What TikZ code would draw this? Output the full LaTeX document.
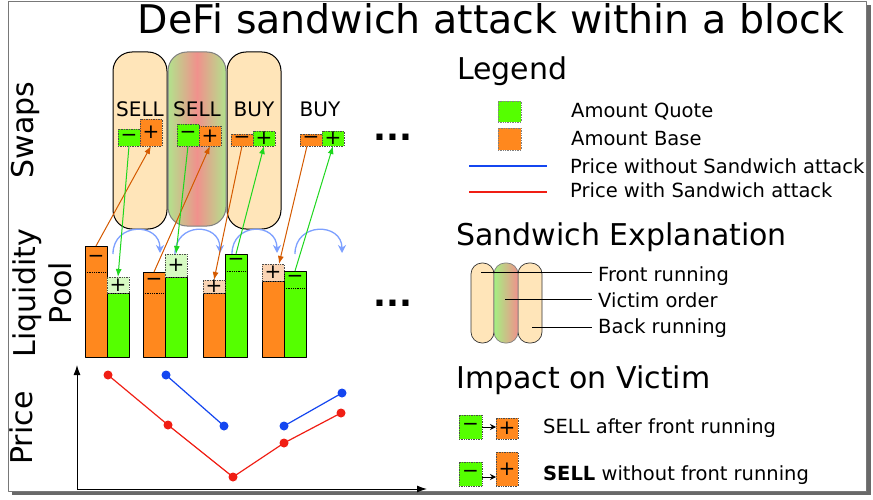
\documentclass[tikz,border=0pt]{standalone}
\usepackage{fontspec}
\setmainfont{DejaVu Sans}
\usetikzlibrary{arrows.meta}

\definecolor{peach}{RGB}{255,229,185}
\definecolor{quoteg}{RGB}{85,255,0}
\definecolor{baseo}{RGB}{255,136,30}
\definecolor{quotel}{RGB}{215,250,195}
\definecolor{basel}{RGB}{250,212,180}
\definecolor{vgreen}{RGB}{178,226,140}
\definecolor{vred}{RGB}{240,145,140}
\definecolor{mgreen}{RGB}{165,240,130}
\definecolor{lineorange}{RGB}{212,90,0}
\definecolor{linegreen}{RGB}{30,215,30}
\definecolor{arcblue}{RGB}{125,160,255}
\definecolor{priceblue}{RGB}{20,70,240}
\definecolor{pricered}{RGB}{240,30,20}
\definecolor{framegray}{RGB}{120,120,120}
\definecolor{shadowgray}{RGB}{105,105,105}

\newcommand{\sz}[1]{\fontsize{#1}{#1}\selectfont}

\begin{document}
\begin{tikzpicture}[x=1pt, y=-1pt, line join=round,
    pill/.style={draw=black, line width=1pt, fill=peach, rounded corners=19pt},
    minipill/.style={draw=black!80, line width=0.7pt, fill=peach, rounded corners=11pt},
    amt/.style={draw=black!70, densely dotted, line width=0.7pt, inner sep=0pt, outer sep=0pt,
      anchor=south west, minimum width=22pt},
    quote/.style={amt, fill=quoteg},
    base/.style={amt, fill=baseo},
    bar/.style={draw=black, line width=1pt, inner sep=0pt, outer sep=0pt, anchor=south,
      minimum width=22pt},
    addbox/.style={amt, anchor=south},
    sep/.style={densely dotted, line width=0.8pt},
    sign/.style={font=\sz{20}, inner sep=0pt},
    act/.style={font=\sz{20}, anchor=base, inner sep=0pt},
    head/.style={font=\sz{30}, anchor=base west, inner sep=0pt},
    item/.style={font=\sz{19.5}, anchor=base west, inner sep=0pt},
    rowlab/.style={font=\fontsize{30}{36}\selectfont, rotate=90, inner sep=0pt},
    etc/.style={font=\bfseries\sz{34}, inner sep=0pt},
    baseflow/.style={draw=lineorange, line width=1pt, -{Latex[length=8pt,width=6pt]}},
    quoteflow/.style={draw=linegreen, line width=1pt, -{Latex[length=8pt,width=6pt]}},
    turn/.style={draw=arcblue, line width=1.3pt, -{Stealth[length=8pt,width=8pt]}},
    axis/.style={line width=1pt, -{Latex[length=10pt,width=7pt]}},
    blueline/.style={draw=priceblue, line width=1.2pt},
    redline/.style={draw=pricered, line width=1.2pt},
    every label/.style={font=\sz{20}, inner sep=0pt}]

    \useasboundingbox (0,0) rectangle (873,500);

    % frame with shadow
    \fill[white] (8,1) rectangle (866,491);
    \fill[shadowgray] (12,491) rectangle (871,495);
    \fill[shadowgray] (866,5) rectangle (871,495);
    \draw[framegray, line width=0.8pt] (8,1) rectangle (866,491);

    % title
    \node[font=\sz{39.5}, anchor=base, inner sep=0pt] (title) at (491,34) {DeFi sandwich attack within a block};

    % row labels
    \node[rowlab] (swaps) at (25,130) {Swaps};
    \node[rowlab, align=center] (pool) at (42,293) {Liquidity\\Pool};
    \node[rowlab] (price) at (21,428) {Price};

    % sandwich pills
    \draw[pill] (113,52) rectangle (167,229);
    \draw[pill] (227,52) rectangle (281,229);
    \draw[pill, draw=gray, left color=vgreen, right color=vgreen, middle color=vred] (168,52) rectangle (226,226);

    % swaps
    \node[act] (t1) at (140,117) {SELL};
    \node[act] (t2) at (197,117) {SELL};
    \node[act] (t3) at (254,117) {BUY};
    \node[act] (t4) at (320,117) {BUY};

    \node[quote, minimum height=17pt, label=center:−] (sw1m) at (118,146) {};
    \node[base, minimum height=27pt, label=center:+] (sw1p) at (140,146) {};
    \node[quote, minimum height=22pt, label=center:−] (sw2m) at (177,146) {};
    \node[base, minimum height=20pt, label=center:+] (sw2p) at (199,146) {};
    \node[base, minimum height=12pt, label=center:−] (sw3m) at (231,146) {};
    \node[quote, minimum height=15pt, label=center:+] (sw3p) at (253,146) {};
    \node[base, minimum height=12pt, label=center:−] (sw4m) at (300,146) {};
    \node[quote, minimum height=15pt, label=center:+] (sw4p) at (322,146) {};

    \node[etc] (more1) at (393,137) {...};

    % pool turns
    \foreach \xa/\xb in {113/160, 175/220, 232/277, 295/342}
        \draw[turn] (\xa,254) .. controls (\xa,222) and (\xb,222) .. (\xb,253);

    % liquidity pool
    \node[bar, fill=baseo, minimum height=111pt] (b1) at (96,357) {};
    \node[bar, fill=quoteg, minimum height=64pt] (q1) at (118,357) {};
    \node[addbox, fill=quotel, minimum height=16pt, label=center:+] (a1) at (118,293) {};
    \draw[sep] (85,272) -- (107,272);
    \node[sign] (n1) at (96,259) {−};

    \node[bar, fill=baseo, minimum height=85pt] (b2) at (154,357) {};
    \node[bar, fill=quoteg, minimum height=80pt] (q2) at (176,357) {};
    \node[addbox, fill=quotel, minimum height=23pt, label=center:+] (a2) at (176,277) {};
    \draw[sep] (143,293) -- (165,293);
    \node[sign] (n2) at (154,282) {−};

    \node[bar, fill=baseo, minimum height=64pt] (b3) at (214,357) {};
    \node[bar, fill=quoteg, minimum height=103pt] (q3) at (236,357) {};
    \node[addbox, fill=basel, minimum height=13pt, label=center:+] (a3) at (214,293) {};
    \draw[sep] (225,271) -- (247,271);
    \node[sign] (n3) at (236,262) {−};

    \node[bar, fill=baseo, minimum height=76pt] (b4) at (273,357) {};
    \node[bar, fill=quoteg, minimum height=86pt] (q4) at (295,357) {};
    \node[addbox, fill=basel, minimum height=17pt, label=center:+] (a4) at (273,281) {};
    \draw[sep] (284,288) -- (306,288);
    \node[sign] (n4) at (295,279) {−};

    \node[etc] (more2) at (393,303) {...};

    % flows between swaps and pool
    \draw[baseflow] (b1.north) -- (sw1p.south);
    \draw[quoteflow] (sw1m.south) -- (a1.north);
    \draw[baseflow] (b2.north) -- (sw2p.south);
    \draw[quoteflow] (sw2m.south) -- (a2.north);
    \draw[baseflow] (sw3m.south) -- (a3.north);
    \draw[quoteflow] (q3.north) -- (sw3p.south);
    \draw[baseflow] ([xshift=-4pt]sw4m.south) -- ([xshift=6pt]a4.north);
    \draw[quoteflow] (q4.north) -- (sw4p.south);

    % price chart
    \coordinate (o) at (77,489);
    \coordinate (ytop) at (77,365);
    \coordinate (xend) at (427,489);
    \draw[axis] (o) -- (ytop);
    \draw[axis] (o) -- (xend);

    \coordinate (r1) at (108,375);
    \coordinate (r2) at (168,425);
    \coordinate (r3) at (233,477);
    \coordinate (r4) at (284,443);
    \coordinate (r5) at (341,413);
    \coordinate (u1) at (166,375);
    \coordinate (u2) at (224,426);
    \coordinate (u3) at (284,426);
    \coordinate (u4) at (342,393);

    \draw[redline] (r1) -- (r2) -- (r3) -- (r4) -- (r5);
    \draw[blueline] (u1) -- (u2);
    \draw[blueline] (u3) -- (u4);
    \foreach \p in {r1,r2,r3,r4,r5}
        \fill[pricered] (\p) circle (4.5pt);
    \foreach \p in {u1,u2,u3,u4}
        \fill[priceblue] (\p) circle (4.5pt);

    % legend
    \node[head] (leg) at (457,80) {Legend};
    \node[amt, draw=gray, fill=quoteg, minimum width=23pt, minimum height=21pt] (kq) at (498,122) {};
    \node[amt, draw=gray, fill=baseo, minimum width=23pt, minimum height=22pt] (kb) at (498,150) {};
    \node[item] (kqt) at (571,118) {Amount Quote};
    \node[item] (kbt) at (571,146) {Amount Base};
    \coordinate (kb1) at (469,166);
    \coordinate (kb2) at (547,166);
    \coordinate (kr1) at (469,192);
    \coordinate (kr2) at (547,192);
    \draw[blueline] (kb1) -- (kb2);
    \draw[redline] (kr1) -- (kr2);
    \node[item] (kbl) at (570,173) {Price without Sandwich attack};
    \node[item] (krl) at (570,197) {Price with Sandwich attack};

    % sandwich explanation
    \node[head] (sexp) at (456,245) {Sandwich Explanation};
    \draw[minipill] (471,263) rectangle (494,343);
    \draw[minipill] (518,263) rectangle (542,343);
    \draw[minipill, draw=gray, left color=mgreen, right color=vred] (494,263) rectangle (518,343);
    \node[item] (frt) at (598,281) {Front running};
    \node[item] (vot) at (598,307) {Victim order};
    \node[item] (brt) at (598,333) {Back running};
    \coordinate (fr) at (481,272);
    \coordinate (vo) at (505,299);
    \coordinate (br) at (532,327);
    \draw[line width=1pt, shorten >=6pt] (fr) -- (fr -| frt.west);
    \draw[line width=1pt, shorten >=6pt] (vo) -- (vo -| vot.west);
    \draw[line width=1pt, shorten >=6pt] (br) -- (br -| brt.west);

    % impact on victim
    \node[head] (imp) at (456,388) {Impact on Victim};
    \node[quote, minimum width=23pt, minimum height=24pt, label=center:−] (iq1) at (459,439) {};
    \node[base, minimum height=21pt, label=center:+] (ib1) at (496,439) {};
    \node[quote, minimum width=23pt, minimum height=24pt, label=center:−] (iq2) at (459,486) {};
    \node[base, minimum height=34pt, label=center:+] (ib2) at (496,486) {};
    \draw[line width=1pt, -{Stealth[length=6pt,width=6pt]}] (iq1.east) -- (iq1.east -| ib1.west);
    \draw[line width=1pt, -{Stealth[length=6pt,width=6pt]}] ([yshift=-3pt]iq2.east) -- ([yshift=-3pt]iq2.east -| ib2.west);
    \node[item] (it1) at (543,433) {SELL after front running};
    \node[item] (it2) at (543,480) {\textbf{SELL} without front running};
\end{tikzpicture}
\end{document}
